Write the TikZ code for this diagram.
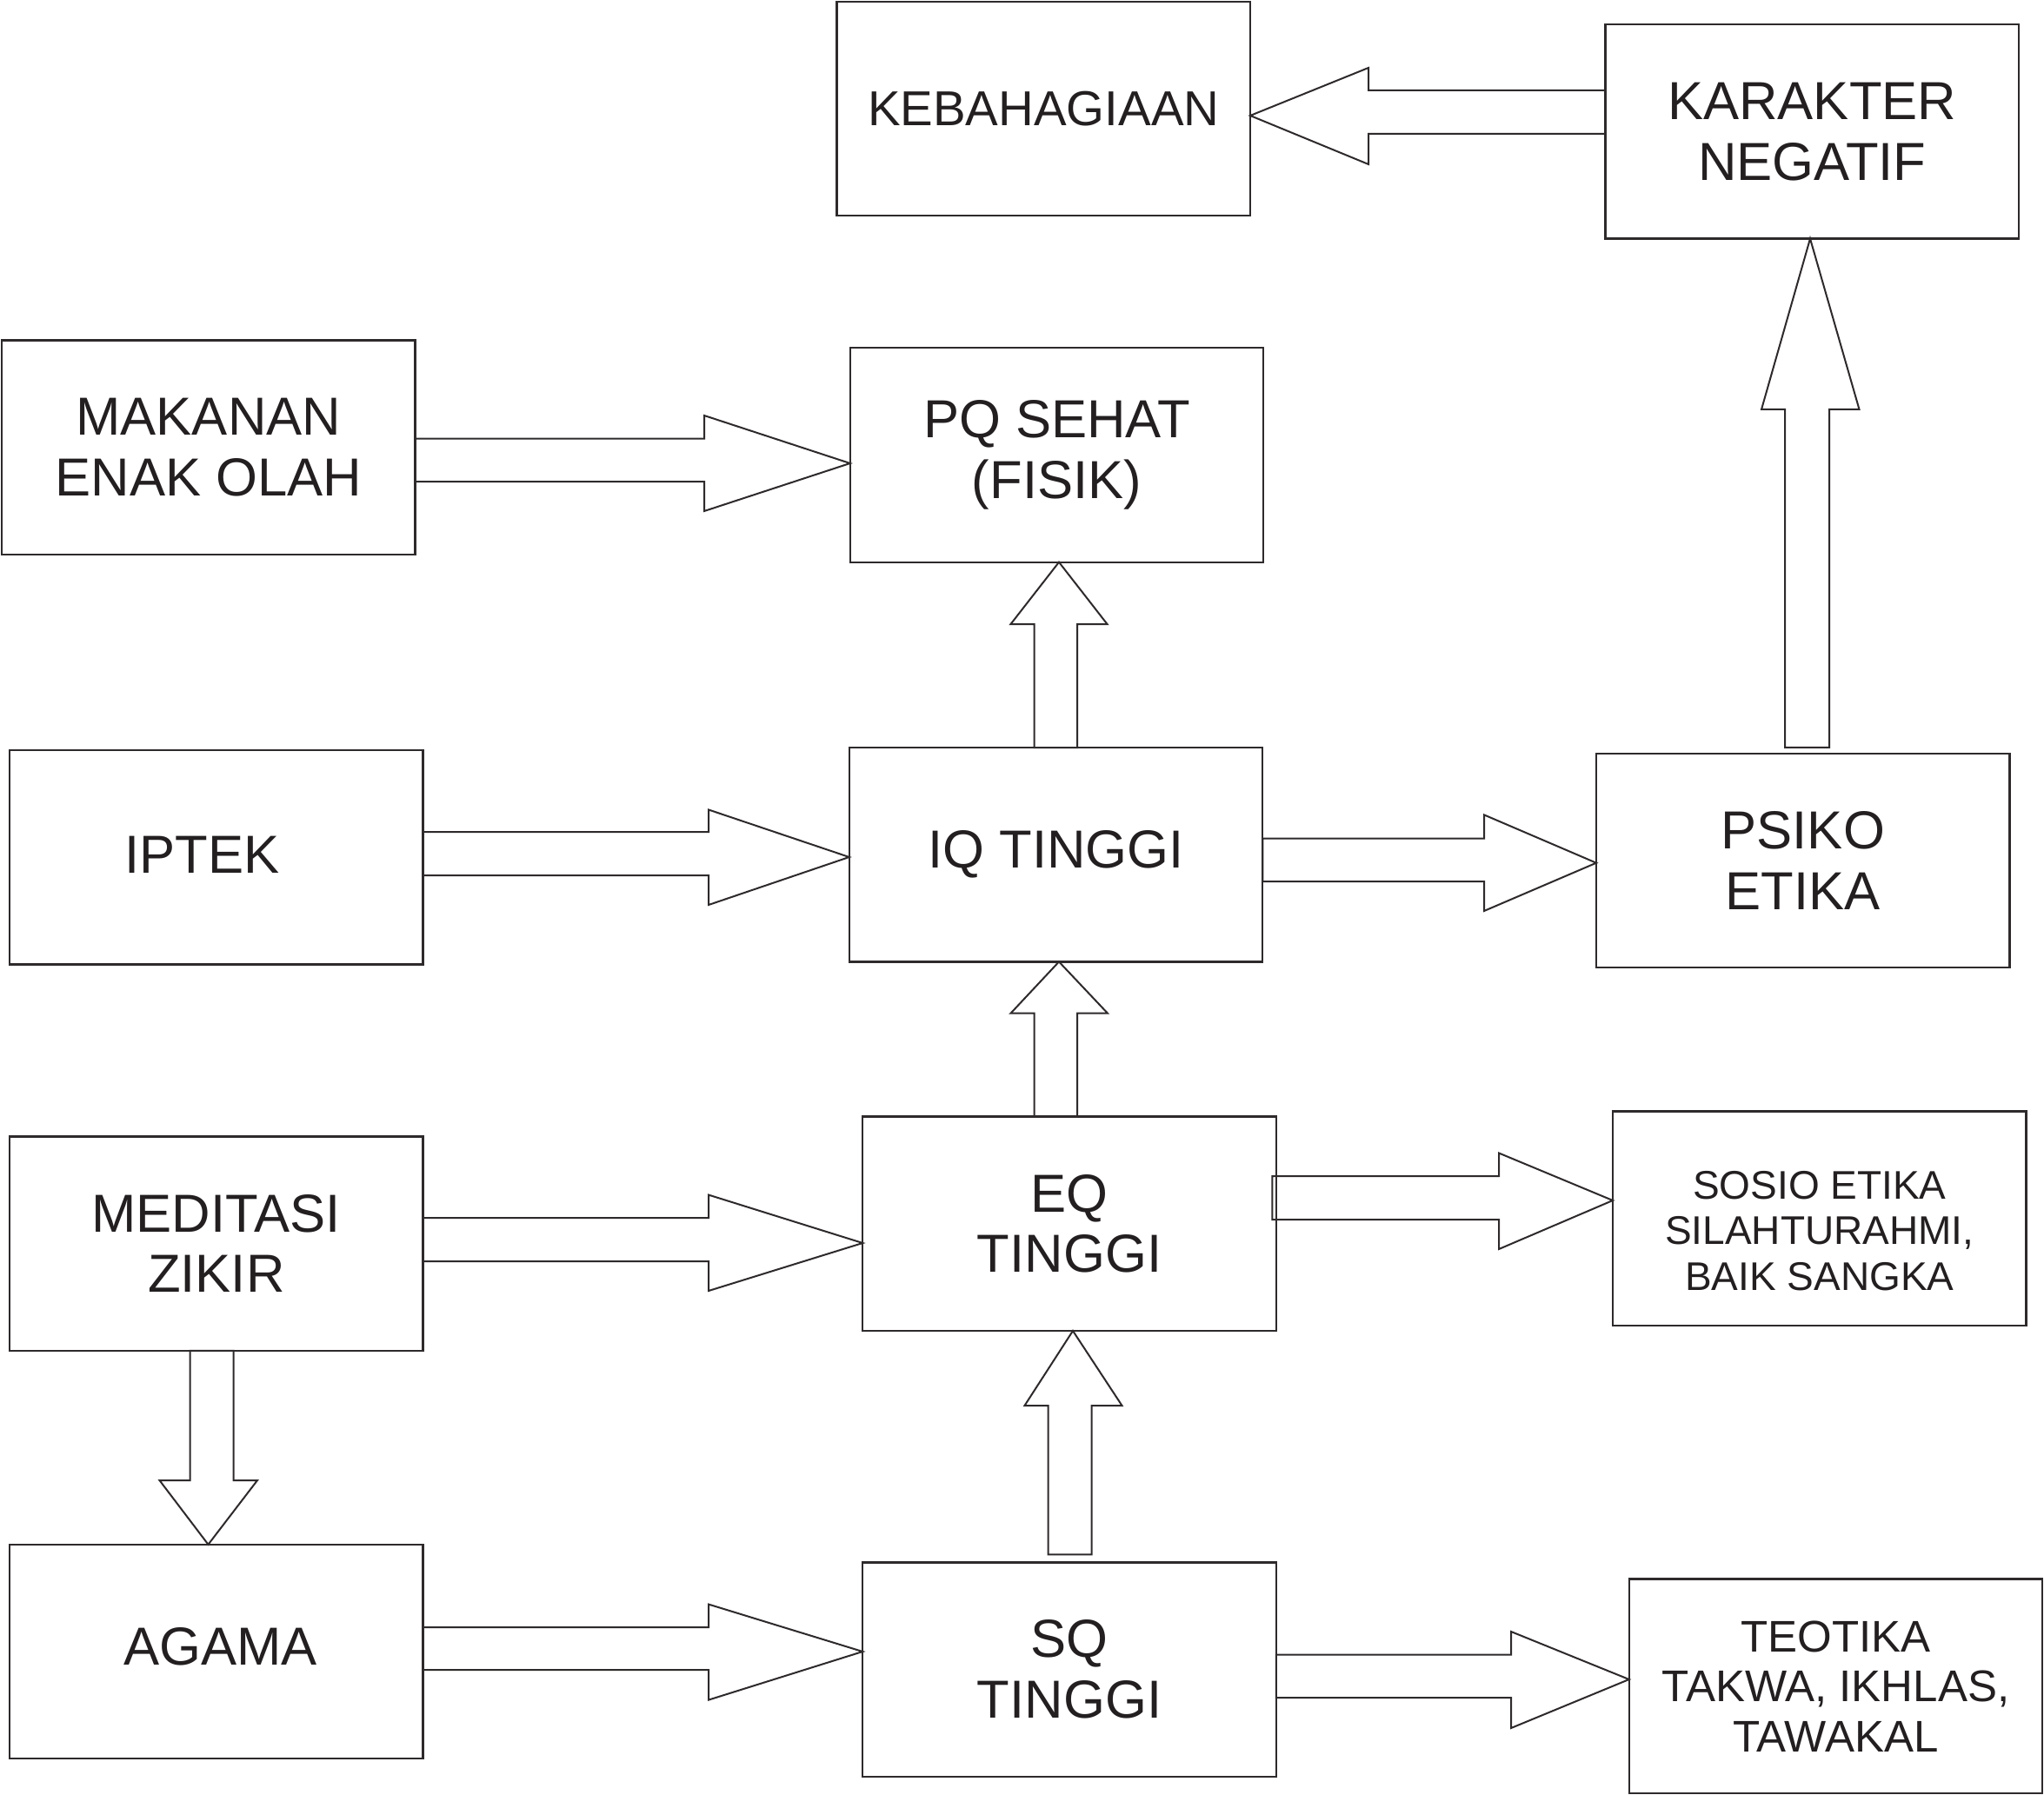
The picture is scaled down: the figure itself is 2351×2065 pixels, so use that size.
\documentclass[tikz,border=0pt]{standalone}
\usepackage{fontspec}
\setmainfont{Liberation Sans}
\usetikzlibrary{calc}
\definecolor{ink}{HTML}{231F20}
\definecolor{edgec}{HTML}{2E2A2B}
\newcommand{\mainsz}{\fontsize{30.8}{34.8}\selectfont}
\newcommand{\kebsz}{\fontsize{28.2}{33}\selectfont}
\newcommand{\sososz}{\fontsize{23}{26.25}\selectfont}
\newcommand{\teosz}{\fontsize{25.5}{28.75}\selectfont}
% horizontal block arrow: tail, tip, base x, shaft top, shaft bottom, head top, head bottom, tip y
\newcommand{\hblk}[8]{\draw[blk] (#1 |- 0,#4) -- (#3,#4) -- (#3,#6) -- (#2 |- 0,#8) -- (#3,#7) -- (#3,#5) -- (#1 |- 0,#5) -- cycle;}
% vertical block arrow: tail, tip, base y, shaft left, shaft right, head left, head right, tip x
\newcommand{\vblk}[8]{\draw[blk] (#4,0 |- #1) -- (#4,#3) -- (#6,#3) -- (#8,0 |- #2) -- (#7,#3) -- (#5,#3) -- (#5,0 |- #1) -- cycle;}
\begin{document}
\begin{tikzpicture}[x=0.5pt,y=-0.5pt,
  box/.style={draw=edgec, line width=1.2pt, minimum width=237.75pt, minimum height=123.2pt,
    inner sep=0pt, outer sep=0pt, align=center, text=ink, font=\mainsz},
  lbl/.style={inner sep=0pt, align=center, text=ink, font=\mainsz},
  blk/.style={draw=edgec, line width=1pt, line join=miter}]
\useasboundingbox (0,0) rectangle (2351,2065);

\node[box, font=\kebsz] (keb) at (1200.25,125) {KEBAHAGIAAN};
\node[box] (kar) at (2084.25,151.35) {KARAKTER\\NEGATIF};
\node[box] (mak) at (239.75,514.85) {MAKANAN\\ENAK OLAH};
\node[box] (pq) at (1215.5,523.5) {PQ SEHAT\\(FISIK)};
\node[box] (iptek) at (248.75,986.35) {};
\node[lbl] (iptektxt) at (232.5,983) {IPTEK};
\node[box] (iq) at (1214.5,983.2) {IQ TINGGI};
\node[box] (psiko) at (2073.75,990) {PSIKO\\ETIKA};
\node[box] (med) at (248.75,1430.55) {MEDITASI\\ZIKIR};
\node[box] (eq) at (1230,1407.8) {EQ\\TINGGI};
\node[box] (sosio) at (2092.75,1401.85) {};
\node[lbl, font=\sososz] (sosiotxt) at (2092.75,1416) {SOSIO ETIKA\\SILAHTURAHMI,\\BAIK SANGKA};
\node[box] (agama) at (248.75,1900) {};
\node[lbl] (agamatxt) at (253.75,1894) {AGAMA};
\node[box] (sq) at (1230,1920.5) {SQ\\TINGGI};
\node[box, font=\teosz] (teo) at (2111.5,1939.8) {TEOTIKA\\TAKWA, IKHLAS,\\TAWAKAL};

\coordinate (eqtail) at ([xshift=-2.25pt]eq.east);
\coordinate (sqtail) at ([yshift=4.5pt]sq.north);
\coordinate (psikotail) at ([yshift=3.5pt]psiko.north);

\hblk{kar.west}{keb.east}{1574}{104}{154}{78}{189}{133}
\hblk{mak.east}{pq.west}{810}{504.6}{554}{478}{588}{533}
\hblk{iptek.east}{iq.west}{815}{957}{1007}{931.5}{1041}{986}
\hblk{iq.east}{psiko.west}{1707}{964.5}{1014}{937.4}{1048}{992.7}
\hblk{med.east}{eq.west}{815}{1401}{1451}{1374.6}{1485}{1430}
\hblk{eqtail}{sosio.west}{1724}{1353}{1403}{1326.5}{1437}{1381}
\hblk{agama.east}{sq.west}{815}{1872}{1921}{1845.6}{1955.6}{1900}
\hblk{sq.east}{teo.west}{1738}{1903.5}{1953}{1877}{1988}{1932}

\vblk{iq.north}{pq.south}{718}{1189.5}{1239}{1162.5}{1273.5}{1218}
\vblk{eq.north}{iq.south}{1165.7}{1189.5}{1239}{1162.5}{1274}{1218}
\vblk{sqtail}{eq.south}{1617}{1205.5}{1255.5}{1178.5}{1290.5}{1234}
\vblk{psikotail}{kar.south}{471}{2053}{2104}{2026}{2138.5}{2082}
\vblk{med.south}{agama.north}{1703}{218.5}{268.5}{183.5}{296}{239.5}
\end{tikzpicture}
\end{document}
